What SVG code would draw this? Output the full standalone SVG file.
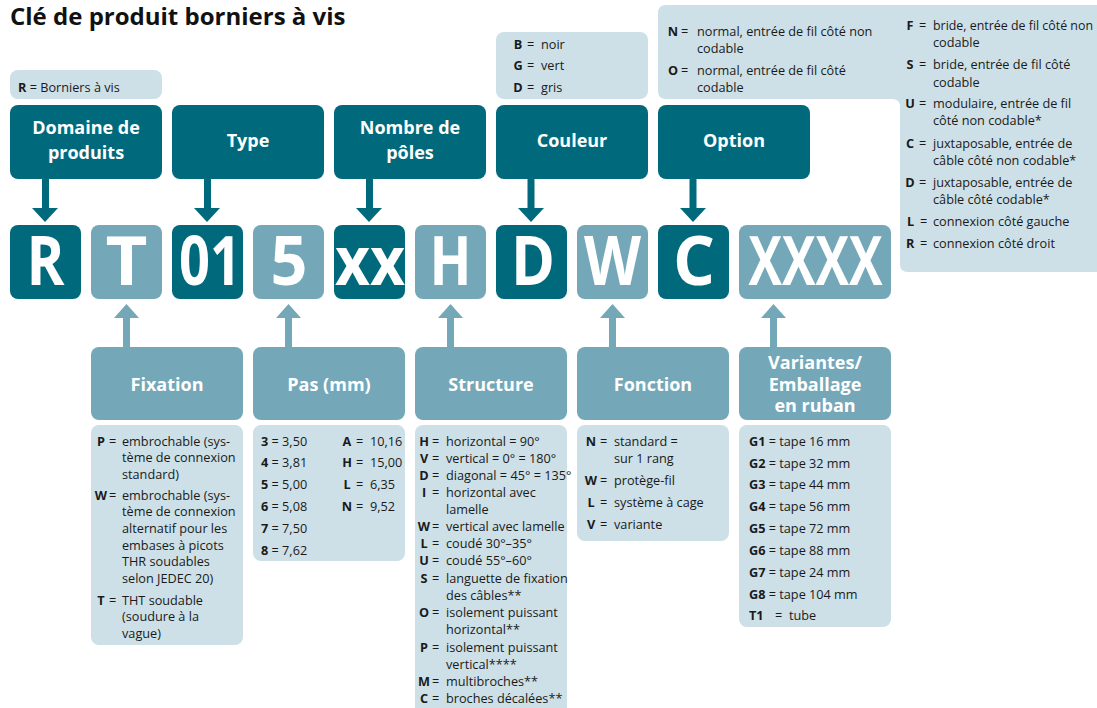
<svg xmlns="http://www.w3.org/2000/svg" width="1097" height="708" viewBox="0 0 1097 708">
<style>
.dk{fill:#006a7c}
.md{fill:#74a8b8}
.lt{fill:#cde0e7}
.title{font:700 24px 'Open Sans',sans-serif;fill:#111}
.hd{font:700 18px 'Open Sans',sans-serif;fill:#fff;text-anchor:middle}
.big{font:700 68px 'Open Sans',sans-serif;fill:#fff;text-anchor:middle}
.t{font:400 12.7px 'Open Sans',sans-serif;fill:#1a1a1a}
.k{font-weight:700}
.m{text-anchor:middle}
</style>
<rect width="1097" height="708" fill="#fff"/>
<text class="title" x="10" y="25">Clé de produit borniers à vis</text>

<!-- top legends -->
<g id="legend-domaine">
<rect class="lt" x="10" y="70" width="152" height="29" rx="8"/>
<text class="t" x="18" y="92"><tspan class="k">R</tspan> = Borniers à vis</text>
</g>
<g id="legend-couleur">
<rect class="lt" x="496" y="32" width="152" height="67" rx="8"/>
<text class="t k m" x="518" y="48.5">B</text><text class="t" x="527" y="48.5">=</text><text class="t" x="541" y="48.5">noir</text>
<text class="t k m" x="518" y="70">G</text><text class="t" x="527" y="70">=</text><text class="t" x="541" y="70">vert</text>
<text class="t k m" x="518" y="91.5">D</text><text class="t" x="527" y="91.5">=</text><text class="t" x="541" y="91.5">gris</text>
</g>
<g id="legend-option">
<path class="lt" d="M666 5 H1105 V272 H908 Q900 272 900 264 V107 Q900 99 892 99 H666 Q658 99 658 91 V13 Q658 5 666 5 Z"/>
<text class="t k m" x="673" y="35.5">N</text><text class="t" x="681" y="35.5">=</text><text class="t" x="697" y="35.5">normal, entrée de fil côté non</text>
<text class="t" x="697" y="52.5">codable</text>
<text class="t k m" x="673" y="74.5">O</text><text class="t" x="681" y="74.5">=</text><text class="t" x="697" y="74.5">normal, entrée de fil côté</text>
<text class="t" x="697" y="91.5">codable</text>
<text class="t k m" x="910" y="29.5">F</text><text class="t" x="919" y="29.5">=</text><text class="t" x="933" y="29.5" textLength="160" lengthAdjust="spacingAndGlyphs">bride, entrée de fil côté non</text>
<text class="t" x="933" y="46.5">codable</text>
<text class="t k m" x="910" y="68.5">S</text><text class="t" x="919" y="68.5">=</text><text class="t" x="933" y="68.5">bride, entrée de fil côté</text>
<text class="t" x="933" y="86.5">codable</text>
<text class="t k m" x="910" y="107.5">U</text><text class="t" x="919" y="107.5">=</text><text class="t" x="933" y="107.5">modulaire, entrée de fil</text>
<text class="t" x="933" y="124.5">côté non codable*</text>
<text class="t k m" x="910" y="147.5">C</text><text class="t" x="919" y="147.5">=</text><text class="t" x="933" y="147.5">juxtaposable, entrée de</text>
<text class="t" x="933" y="164.5">câble côté non codable*</text>
<text class="t k m" x="910" y="186.5">D</text><text class="t" x="919" y="186.5">=</text><text class="t" x="933" y="186.5">juxtaposable, entrée de</text>
<text class="t" x="933" y="203.5">câble côté codable*</text>
<text class="t" x="907" y="225.5"><tspan class="k">L</tspan><tspan x="920">=</tspan><tspan x="933">connexion côté gauche</tspan></text>
<text class="t" x="906" y="247.5"><tspan class="k">R</tspan><tspan x="920">=</tspan><tspan x="933">connexion côté droit</tspan></text>
</g>

<!-- header nodes -->
<g id="h-domaine"><rect class="dk" x="10" y="105" width="152" height="74" rx="8"/><text class="hd" x="86" y="134">Domaine de</text><text class="hd" x="86" y="159">produits</text></g>
<g id="h-type"><rect class="dk" x="172" y="105" width="152" height="74" rx="8"/><text class="hd" x="248" y="147">Type</text></g>
<g id="h-poles"><rect class="dk" x="334" y="105" width="152" height="74" rx="8"/><text class="hd" x="410" y="134">Nombre de</text><text class="hd" x="410" y="159">pôles</text></g>
<g id="h-couleur"><rect class="dk" x="496" y="105" width="152" height="74" rx="8"/><text class="hd" x="572" y="147">Couleur</text></g>
<g id="h-option"><rect class="dk" x="658" y="105" width="152" height="74" rx="8"/><text class="hd" x="734" y="147">Option</text></g>

<!-- code letters -->
<g id="c-R"><rect class="dk" x="10" y="225" width="71" height="74" rx="8"/><text class="big" x="45.5" y="285" textLength="38" lengthAdjust="spacingAndGlyphs">R</text></g>
<g id="c-T"><rect class="md" x="91" y="225" width="71" height="74" rx="8"/><text class="big" x="126.5" y="285" textLength="42" lengthAdjust="spacingAndGlyphs">T</text></g>
<g id="c-01"><rect class="dk" x="172" y="225" width="71" height="74" rx="8"/><text class="big" x="210" y="285" textLength="62" lengthAdjust="spacingAndGlyphs">01</text></g>
<g id="c-5"><rect class="md" x="253" y="225" width="71" height="74" rx="8"/><text class="big" x="289" y="285" textLength="37" lengthAdjust="spacingAndGlyphs">5</text></g>
<g id="c-xx"><rect class="dk" x="334" y="225" width="71" height="74" rx="8"/><text class="big" x="370" y="285" textLength="70" lengthAdjust="spacingAndGlyphs">xx</text></g>
<g id="c-H"><rect class="md" x="415" y="225" width="71" height="74" rx="8"/><text class="big" x="450.5" y="285" textLength="42" lengthAdjust="spacingAndGlyphs">H</text></g>
<g id="c-D"><rect class="dk" x="496" y="225" width="71" height="74" rx="8"/><text class="big" x="533" y="285" textLength="44" lengthAdjust="spacingAndGlyphs">D</text></g>
<g id="c-W"><rect class="md" x="577" y="225" width="71" height="74" rx="8"/><text class="big" x="612.5" y="285" textLength="57" lengthAdjust="spacingAndGlyphs">W</text></g>
<g id="c-C"><rect class="dk" x="658" y="225" width="71" height="74" rx="8"/><text class="big" x="694" y="285" textLength="42" lengthAdjust="spacingAndGlyphs">C</text></g>
<g id="c-XXXX"><rect class="md" x="739" y="225" width="152" height="74" rx="8"/><text class="big" x="815.5" y="285" textLength="134" lengthAdjust="spacingAndGlyphs">XXXX</text></g>

<!-- connectors -->
<g id="connectors">
<g class="dk">
<rect x="42" y="179" width="7" height="30"/><polygon points="32,208 58,208 45,222"/>
<rect x="204" y="179" width="7" height="30"/><polygon points="194,208 220,208 207,222"/>
<rect x="366" y="179" width="7" height="30"/><polygon points="356,208 382,208 369,222"/>
<rect x="527.5" y="179" width="7" height="30"/><polygon points="518,208 544,208 531,222"/>
<rect x="689.5" y="179" width="7" height="30"/><polygon points="680,208 706,208 693,222"/>
</g>
<g class="md">
<rect x="123" y="317" width="7" height="30"/><polygon points="114,318 139,318 126.5,304"/>
<rect x="285" y="317" width="7" height="30"/><polygon points="276,318 301,318 288.5,304"/>
<rect x="447" y="317" width="7" height="30"/><polygon points="438,318 463,318 450.5,304"/>
<rect x="609" y="317" width="7" height="30"/><polygon points="600,318 625,318 612.5,304"/>
<rect x="770" y="317" width="7" height="30"/><polygon points="761,318 786,318 773.5,304"/>
</g>
</g>

<!-- bottom nodes -->
<g id="h-fixation"><rect class="md" x="91" y="347" width="152" height="73" rx="8"/><text class="hd" x="167" y="391">Fixation</text></g>
<g id="h-pas"><rect class="md" x="253" y="347" width="152" height="73" rx="8"/><text class="hd" x="329" y="391">Pas (mm)</text></g>
<g id="h-structure"><rect class="md" x="415" y="347" width="152" height="73" rx="8"/><text class="hd" x="491" y="391">Structure</text></g>
<g id="h-fonction"><rect class="md" x="577" y="347" width="152" height="73" rx="8"/><text class="hd" x="653" y="391">Fonction</text></g>
<g id="h-variantes"><rect class="md" x="739" y="347" width="152" height="73" rx="8"/><text class="hd" x="815" y="369">Variantes/</text><text class="hd" x="815" y="391">Emballage</text><text class="hd" x="815" y="412">en ruban</text></g>

<!-- bottom legends -->
<g id="legend-fixation">
<rect class="lt" x="91" y="425" width="152" height="220" rx="8"/>
<text class="t k m" x="101" y="445.5">P</text><text class="t" x="109" y="445.5">=</text><text class="t" x="122" y="445.5">embrochable (sys-</text>
<text class="t" x="122" y="462">tème de connexion</text>
<text class="t" x="122" y="478.5">standard)</text>
<text class="t k m" x="101" y="499.5">W</text><text class="t" x="109" y="499.5">=</text><text class="t" x="122" y="499.5">embrochable (sys-</text>
<text class="t" x="122" y="516">tème de connexion</text>
<text class="t" x="122" y="532.5">alternatif pour les</text>
<text class="t" x="122" y="549.5">embases à picots</text>
<text class="t" x="122" y="566">THR soudables</text>
<text class="t" x="122" y="582.5">selon JEDEC 20)</text>
<text class="t k m" x="101" y="604.5">T</text><text class="t" x="109" y="604.5">=</text><text class="t" x="122" y="604.5">THT soudable</text>
<text class="t" x="122" y="621">(soudure à la</text>
<text class="t" x="122" y="637.5">vague)</text>
</g>
<g id="legend-pas">
<rect class="lt" x="253" y="425" width="152" height="136" rx="8"/>
<text class="t" x="261" y="445.5"><tspan class="k">3</tspan> = 3,50</text>
<text class="t" x="261" y="467"><tspan class="k">4</tspan> = 3,81</text>
<text class="t" x="261" y="489"><tspan class="k">5</tspan> = 5,00</text>
<text class="t" x="261" y="510.5"><tspan class="k">6</tspan> = 5,08</text>
<text class="t" x="261" y="532.5"><tspan class="k">7</tspan> = 7,50</text>
<text class="t" x="261" y="554.5"><tspan class="k">8</tspan> = 7,62</text>
<text class="t k m" x="347" y="445.5">A</text><text class="t" x="356" y="445.5">=</text><text class="t" x="370" y="445.5">10,16</text>
<text class="t k m" x="347" y="467">H</text><text class="t" x="356" y="467">=</text><text class="t" x="370" y="467">15,00</text>
<text class="t k m" x="347" y="489">L</text><text class="t" x="356" y="489">=</text><text class="t" x="370" y="489">6,35</text>
<text class="t k m" x="347" y="510.5">N</text><text class="t" x="356" y="510.5">=</text><text class="t" x="370" y="510.5">9,52</text>
</g>
<g id="legend-structure">
<rect class="lt" x="415" y="425" width="152" height="295" rx="8"/>
<text class="t k m" x="424" y="445.5">H</text><text class="t" x="432" y="445.5">=</text><text class="t" x="446" y="445.5">horizontal = 90°</text>
<text class="t k m" x="424" y="462.5">V</text><text class="t" x="432" y="462.5">=</text><text class="t" x="446" y="462.5">vertical = 0° = 180°</text>
<text class="t k m" x="424" y="479.5">D</text><text class="t" x="432" y="479.5">=</text><text class="t" x="446" y="479.5">diagonal = 45° = 135°</text>
<text class="t k m" x="424" y="496.5">I</text><text class="t" x="432" y="496.5">=</text><text class="t" x="446" y="496.5">horizontal avec</text>
<text class="t" x="446" y="513.5">lamelle</text>
<text class="t k m" x="424" y="530.5">W</text><text class="t" x="432" y="530.5">=</text><text class="t" x="446" y="530.5">vertical avec lamelle</text>
<text class="t k m" x="424" y="547.5">L</text><text class="t" x="432" y="547.5">=</text><text class="t" x="446" y="547.5">coudé 30°–35°</text>
<text class="t k m" x="424" y="564.5">U</text><text class="t" x="432" y="564.5">=</text><text class="t" x="446" y="564.5">coudé 55°–60°</text>
<text class="t k m" x="424" y="582.5">S</text><text class="t" x="432" y="582.5">=</text><text class="t" x="446" y="582.5">languette de fixation</text>
<text class="t" x="446" y="599.5">des câbles**</text>
<text class="t k m" x="424" y="617">O</text><text class="t" x="432" y="617">=</text><text class="t" x="446" y="617">isolement puissant</text>
<text class="t" x="446" y="634">horizontal**</text>
<text class="t k m" x="424" y="651.5">P</text><text class="t" x="432" y="651.5">=</text><text class="t" x="446" y="651.5">isolement puissant</text>
<text class="t" x="446" y="668.5">vertical****</text>
<text class="t k m" x="424" y="685.5">M</text><text class="t" x="432" y="685.5">=</text><text class="t" x="446" y="685.5">multibroches**</text>
<text class="t k m" x="424" y="703">C</text><text class="t" x="432" y="703">=</text><text class="t" x="446" y="703">broches décalées**</text>
</g>
<g id="legend-fonction">
<rect class="lt" x="577" y="425" width="152" height="116" rx="8"/>
<text class="t k m" x="591" y="445.5">N</text><text class="t" x="600" y="445.5">=</text><text class="t" x="614" y="445.5">standard =</text>
<text class="t" x="614" y="462.5">sur 1 rang</text>
<text class="t k m" x="591" y="484.5">W</text><text class="t" x="600" y="484.5">=</text><text class="t" x="614" y="484.5">protège-fil</text>
<text class="t k m" x="591" y="506.5">L</text><text class="t" x="600" y="506.5">=</text><text class="t" x="614" y="506.5">système à cage</text>
<text class="t k m" x="591" y="528.5">V</text><text class="t" x="600" y="528.5">=</text><text class="t" x="614" y="528.5">variante</text>
</g>
<g id="legend-variantes">
<rect class="lt" x="739" y="425" width="152" height="202" rx="8"/>
<text class="t" x="749" y="445.5"><tspan class="k">G1</tspan> = tape 16 mm</text>
<text class="t" x="749" y="467.5"><tspan class="k">G2</tspan> = tape 32 mm</text>
<text class="t" x="749" y="488.5"><tspan class="k">G3</tspan> = tape 44 mm</text>
<text class="t" x="749" y="510.5"><tspan class="k">G4</tspan> = tape 56 mm</text>
<text class="t" x="749" y="532.5"><tspan class="k">G5</tspan> = tape 72 mm</text>
<text class="t" x="749" y="554.5"><tspan class="k">G6</tspan> = tape 88 mm</text>
<text class="t" x="749" y="576.5"><tspan class="k">G7</tspan> = tape 24 mm</text>
<text class="t" x="749" y="598.5"><tspan class="k">G8</tspan> = tape 104 mm</text>
<text class="t k" x="749" y="619.5">T1</text><text class="t" x="775" y="619.5">=</text><text class="t" x="789" y="619.5">tube</text>
</g>
</svg>
